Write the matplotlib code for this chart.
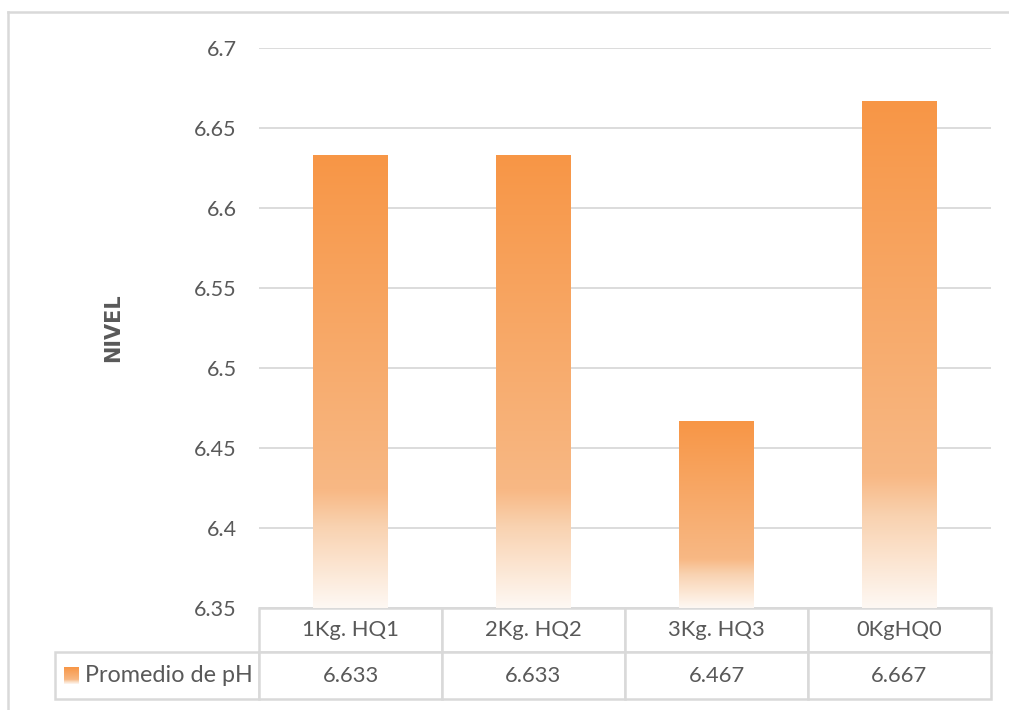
import numpy as np
import matplotlib.pyplot as plt
from matplotlib.table import Table
from matplotlib.colors import LinearSegmentedColormap
from matplotlib.lines import Line2D

categories = ["1Kg. HQ1", "2Kg. HQ2", "3Kg. HQ3", "0KgHQ0"]
promedio_ph = [6.633, 6.633, 6.467, 6.667]
series_name = "Promedio de pH"
y_ticks = [6.35, 6.4, 6.45, 6.5, 6.55, 6.6, 6.65, 6.7]
y_label = "NIVEL"

text_color = "#595959"
line_color = "#D9D9D9"
plt.rcParams["font.family"] = ["Lato", "DejaVu Sans"]

# orange at the top fading to near white at the base of each bar
fade = LinearSegmentedColormap.from_list(
    "fade",
    [
        (0.0, (247 / 255, 150 / 255, 70 / 255)),
        (0.74, (248 / 255, 184 / 255, 132 / 255)),
        (0.82, (249 / 255, 210 / 255, 176 / 255)),
        (1.0, (254 / 255, 248 / 255, 243 / 255)),
    ],
)
grad = np.linspace(0, 1, 256).reshape(-1, 1)

W, H = 1009, 710
fig = plt.figure(figsize=(W / 100, H / 100), dpi=100)
ax = fig.add_axes([259 / W, 1 - 608 / H, 732 / W, 560 / H])

x = np.arange(len(categories))
bars = ax.bar(x, promedio_ph, width=0.405, color="none", edgecolor="none", zorder=2)
ax.set_xlim(-0.5, len(categories) - 0.5)
ax.set_ylim(y_ticks[0], y_ticks[-1])

for b in bars:
    x0, w, top = b.get_x(), b.get_width(), b.get_height()
    im = ax.imshow(grad, cmap=fade, aspect="auto",
                   extent=(x0, x0 + w, y_ticks[0], top), zorder=2,
                   interpolation="bicubic")
    im.set_clip_path(b)

ax.set_yticks(y_ticks)
ax.set_yticklabels([f"{t:g}" for t in y_ticks])
ax.tick_params(axis="y", length=0, pad=16, labelsize=15.5, labelcolor=text_color)
ax.set_xticks([])
ax.grid(axis="y", color=line_color, linewidth=1.3, zorder=0)
for s in ax.spines.values():
    s.set_visible(False)

ax.set_ylabel(y_label, fontsize=15, fontweight="bold", color=text_color,
              family="DejaVu Sans")
ax.yaxis.set_label_coords((123 - 259) / 732, 0.5)

# data table under the plot
lab_w, col_w = 204, 183
head_h, row_h = 44, 47
tab_w = lab_w + col_w * len(categories)
tab_h = head_h + row_h
table = Table(ax, bbox=[(55 - 259) / 732, -tab_h / 560, tab_w / 732, tab_h / 560])
for j, cat in enumerate(categories):
    table.add_cell(0, j + 1, width=col_w, height=head_h, text=cat, loc="center")
    table.add_cell(1, j + 1, width=col_w, height=row_h,
                   text=f"{promedio_ph[j]:.3f}", loc="center")
lab = table.add_cell(1, 0, width=lab_w, height=row_h, text=series_name, loc="left")
lab.PAD = 30 / lab_w
table.auto_set_font_size(False)
table.set_fontsize(15.8)
for cell in table.get_celld().values():
    cell.set_edgecolor(line_color)
    cell.set_linewidth(1.8)
    cell.get_text().set_color(text_color)
lab.get_text().set_fontsize(16.8)
ax.add_table(table)

# legend key beside the series name
key = fig.add_axes([64 / W, 1 - 684 / H, 15 / W, 17 / H])
key.imshow(grad, cmap=fade, aspect="auto", extent=(0, 1, 0, 1))
key.axis("off")

# chart area border
fig.add_artist(Line2D([8 / W, 1008 / W], [1 - 12 / H, 1 - 12 / H], color=line_color, lw=1.8))
fig.add_artist(Line2D([8 / W, 8 / W], [1 - 12 / H, 0], color=line_color, lw=1.8))

fig.savefig("out.png", dpi=100, facecolor="white")
